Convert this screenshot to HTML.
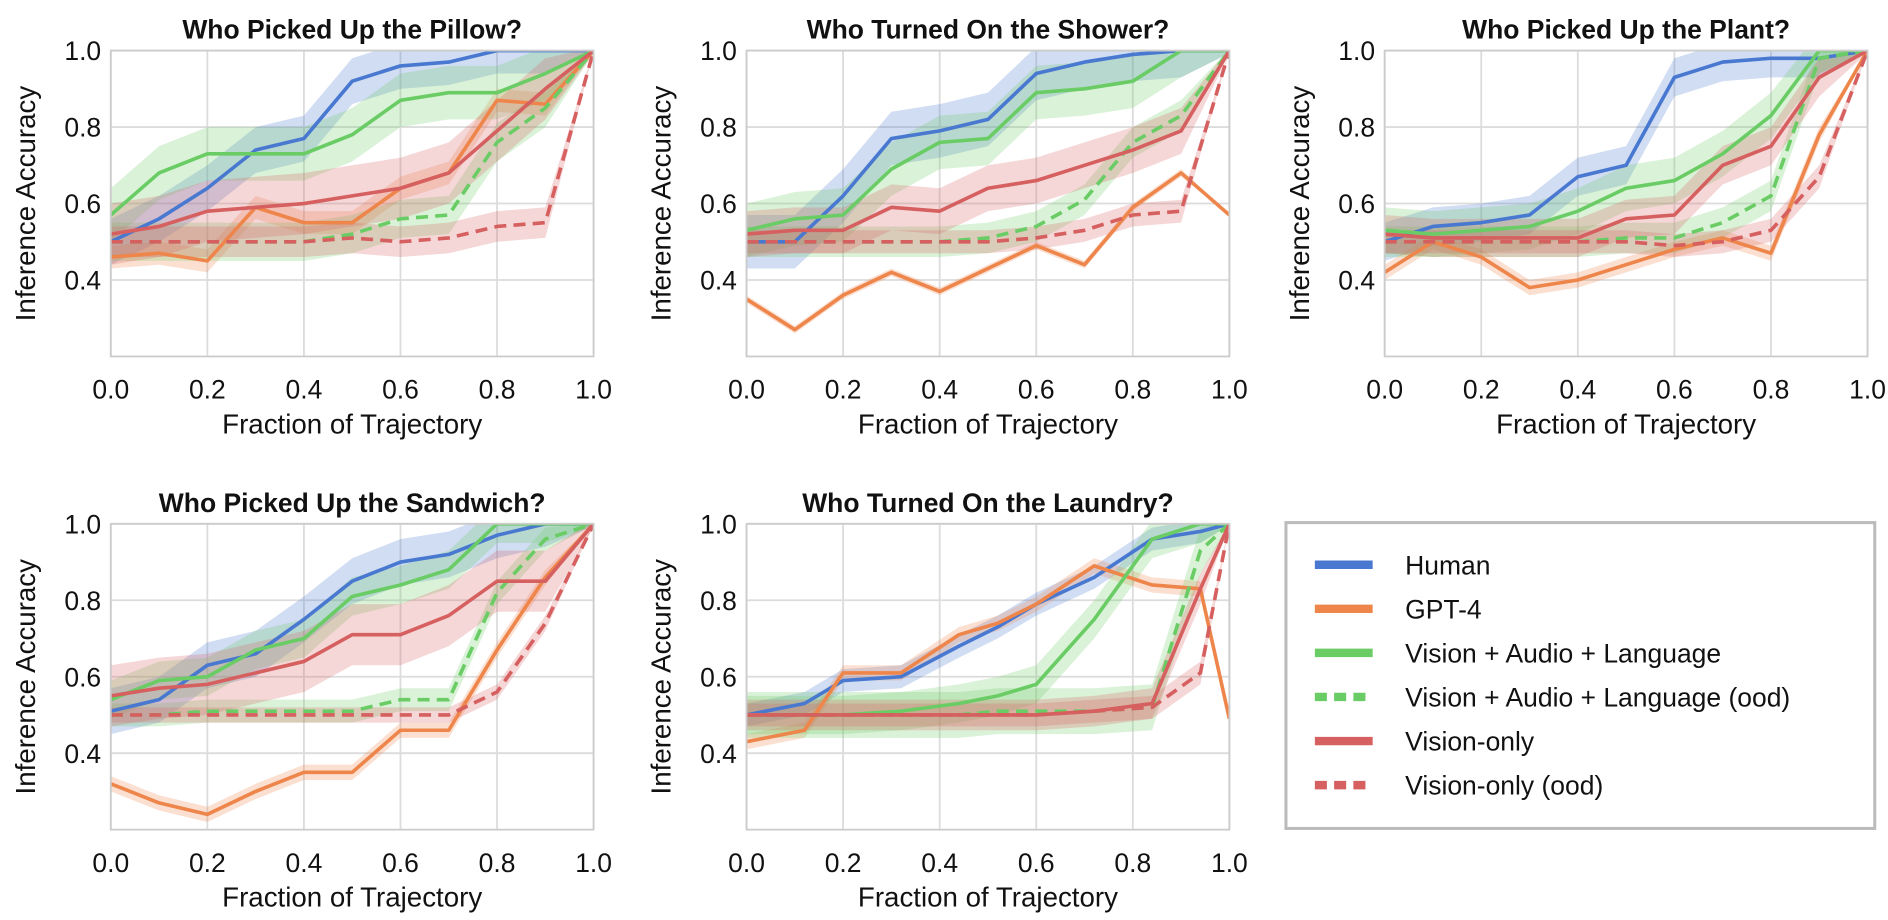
<!DOCTYPE html>
<html><head><meta charset="utf-8"><style>
body{margin:0;background:#fff;}
svg{display:block;font-family:"Liberation Sans",sans-serif;}
</style></head><body>
<svg id="fig" width="1888" height="920" viewBox="0 0 1568 764"></svg>
<script>
const seriesNames=["Human","GPT-4","Vision + Audio + Language","Vision + Audio + Language (ood)","Vision-only","Vision-only (ood)"];
const titles=["Who Picked Up the Pillow?","Who Turned On the Shower?","Who Picked Up the Plant?","Who Picked Up the Sandwich?","Who Turned On the Laundry?"];
const xStd=[0,0.1,0.2,0.3,0.4,0.5,0.6,0.7,0.8,0.9,1.0];
const xLaundry=[0,0.12,0.2,0.32,0.44,0.52,0.6,0.72,0.84,0.94,1.0];
const pillow=[[.50,.56,.64,.74,.77,.92,.96,.97,1,1,1],[.46,.47,.45,.59,.55,.55,.64,.68,.87,.86,1],[.57,.68,.73,.73,.73,.78,.87,.89,.89,.94,1],[.50,.50,.50,.50,.50,.52,.56,.57,.76,.85,1],[.52,.54,.58,.59,.60,.62,.64,.68,.79,.90,1],[.50,.50,.50,.50,.50,.51,.50,.51,.54,.55,1]];
const shower=[[.50,.50,.62,.77,.79,.82,.94,.97,.99,1,1],[.35,.27,.36,.42,.37,.43,.49,.44,.59,.68,.57],[.53,.56,.57,.69,.76,.77,.89,.90,.92,1,1],[.50,.50,.50,.50,.50,.51,.54,.61,.76,.83,1],[.52,.53,.53,.59,.58,.64,.66,.70,.74,.79,1],[.50,.50,.50,.50,.50,.50,.51,.53,.57,.58,1]];
const plant=[[.50,.54,.55,.57,.67,.70,.93,.97,.98,.98,1],[.42,.50,.46,.38,.40,.44,.48,.51,.47,.78,1],[.53,.52,.53,.54,.58,.64,.66,.73,.83,1,1],[.50,.50,.50,.50,.50,.51,.51,.55,.62,.98,1],[.52,.51,.51,.51,.51,.56,.57,.70,.75,.93,1],[.50,.50,.50,.50,.50,.50,.49,.50,.53,.67,1]];
const sandwich=[[.51,.54,.63,.66,.75,.85,.90,.92,.97,1,1],[.32,.27,.24,.30,.35,.35,.46,.46,.67,.86,1],[.54,.59,.60,.67,.70,.81,.84,.88,1,1,1],[.50,.50,.51,.51,.51,.51,.54,.54,.82,.96,1],[.55,.57,.58,.61,.64,.71,.71,.76,.85,.85,1],[.50,.50,.50,.50,.50,.50,.50,.50,.56,.74,1]];
const laundry=[[.50,.53,.59,.60,.68,.73,.79,.86,.96,.98,1],[.43,.46,.61,.61,.71,.74,.79,.89,.84,.83,.49],[.50,.50,.50,.51,.53,.55,.58,.75,.96,1,1],[.50,.50,.50,.50,.50,.51,.51,.51,.52,.93,1],[.50,.50,.50,.50,.50,.50,.50,.51,.53,.83,1],[.50,.50,.50,.50,.50,.50,.50,.51,.52,.61,1]];
const bandPillow=[.06,.03,.07,.05,.08,.04];
const bandShower=[.07,.01,.07,.04,.06,.03];
const bandPlant=[.05,.02,.06,.04,.05,.03];
const bandSandwich=[.06,.02,.05,.03,.08,.02];
const bandLaundry=[.03,.02,.05,.06,.04,.03];
const yTicks=[0.4,0.6,0.8,1.0];
const xTicks=[0,0.2,0.4,0.6,0.8,1.0];
const colors=["#4878d0","#ee854a","#6acc64","#6acc64","#d65f5f","#d65f5f"];
const dashed=[false,false,false,true,false,true];
const panels=[[92,42,pillow,xStd,bandPillow],[620,42,shower,xStd,bandShower],[1150,42,plant,xStd,bandPlant],[92,435,sandwich,xStd,bandSandwich],[620,435,laundry,xLaundry,bandLaundry]];
const NS="http://www.w3.org/2000/svg";
const svg=document.getElementById('fig');
function mk(tag,attrs,parent,text){const e=document.createElementNS(NS,tag);for(const k in attrs)e.setAttribute(k,attrs[k]);if(text!==undefined)e.textContent=text;(parent||svg).appendChild(e);return e;}
const W=401,H=254;
panels.forEach((p,pi)=>{
  const [x0,y0,data,xs,bands]=p;
  const sx=v=>x0+v*W, sy=v=>y0+H-(v-0.2)/0.8*H;
  const g=mk('g',{});
  
  
  const grid=mk('g',{},g);
  
  
  xTicks.forEach(t=>mk('line',{x1:sx(t),x2:sx(t),y1:y0,y2:y0+H,stroke:'#dcdcdc','stroke-width':1.5},grid));
  yTicks.forEach(t=>mk('line',{x1:x0,x2:x0+W,y1:sy(t),y2:sy(t),stroke:'#dcdcdc','stroke-width':1.5},grid));
  const cp='clip'+pi;
  const d=mk('defs',{},g);const c=mk('clipPath',{id:cp},d);mk('rect',{x:x0,y:y0,width:W,height:H},c);
  const plot=mk('g',{'clip-path':'url(#'+cp+')'},g);
  data.forEach((s,si)=>{
    const b=bands[si];
    let up=s.map((v,i)=>sx(xs[i])+','+sy(Math.min(1.05,v+b*(i==s.length-1?0.1:1)))).join(' ');
    let lo=s.map((v,i)=>sx(xs[i])+','+sy(v-b*(i==s.length-1?0.1:1))).reverse().join(' ');
    const band=mk('polygon',{points:up+' '+lo,fill:colors[si],'fill-opacity':0.25,stroke:'none'},plot);
    
    
  });
  data.forEach((s,si)=>{
    const ln=mk('polyline',{points:s.map((v,i)=>sx(xs[i])+','+sy(v)).join(' '),fill:'none',stroke:colors[si],'stroke-width':3,'stroke-dasharray':dashed[si]?'10,6':'none','stroke-linejoin':'round'},plot);
    
    
  });
  mk('rect',{x:x0,y:y0,width:W,height:H,fill:'none',stroke:'#cccccc','stroke-width':1.5},g);
  yTicks.forEach(t=>{const e=mk('text',{x:x0-8,y:sy(t)+8,'text-anchor':'end','font-size':22,fill:'#111'},g,t.toFixed(1));
    });
  xTicks.forEach(t=>{const e=mk('text',{x:sx(t),y:y0+H+35,'text-anchor':'middle','font-size':22,fill:'#111'},g,t.toFixed(1));
    });
  const xl=mk('text',{x:x0+W/2,y:y0+H+64,'text-anchor':'middle','font-size':23,fill:'#111'},g,'Fraction of Trajectory');
  
  const yl=mk('text',{x:0,y:0,'text-anchor':'middle','font-size':23,fill:'#111',transform:'translate('+(x0-63)+','+(y0+H/2)+') rotate(-90)'},g,'Inference Accuracy');
  
  const tt=mk('text',{x:x0+W/2,y:y0-10,'text-anchor':'middle','font-size':22,'font-weight':'bold',fill:'#111'},g,titles[pi]);
  
});
const lg=mk('g',{});


mk('rect',{x:1068,y:434,width:489,height:254,fill:'#fff',stroke:'#bbbbbb','stroke-width':2.5},lg);
seriesNames.forEach((n,i)=>{
  const y=469+i*36.6;
  const e=mk('g',{},lg);
  
  
  mk('line',{x1:1092,x2:1140,y1:y,y2:y,stroke:colors[i],'stroke-width':7,'stroke-dasharray':dashed[i]?'10,6':'none'},e);
  mk('text',{x:1167,y:y+8,'font-size':22,fill:'#111'},e,n);
});
</script>
</body></html>
